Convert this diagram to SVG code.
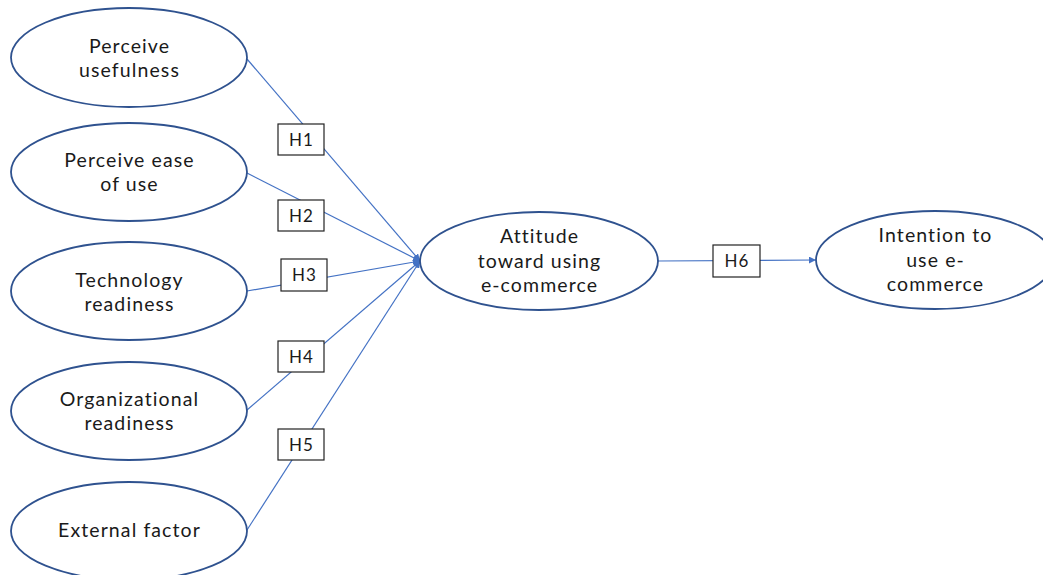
<svg xmlns="http://www.w3.org/2000/svg" width="1043" height="575" viewBox="0 0 1043 575">
<style>
.node ellipse{fill:#fff;stroke:#2F528F;stroke-width:1.8}
.node text,.lbl text{font-family:Lato,"Liberation Sans",sans-serif;font-size:19.5px;letter-spacing:1.1px;fill:#1a1a1a;text-anchor:middle}
.lbl rect{fill:#fff;stroke:#222;stroke-width:1.2}
.lbl text{font-size:17px;letter-spacing:1.1px}
.conn line{stroke:#4472C4;stroke-width:1.2}
</style>
<defs>
<marker id="ah" viewBox="0 0 10 10" refX="10" refY="5" markerWidth="7" markerHeight="7" markerUnits="userSpaceOnUse" orient="auto">
<path d="M0,0 L10,5 L0,10 z" fill="#4472C4"/>
</marker>
</defs>
<rect width="1043" height="575" fill="#fff"/>
<g id="connectors" class="conn">
<line x1="247" y1="59" x2="420" y2="261" marker-end="url(#ah)"/>
<line x1="247" y1="173" x2="420" y2="261" marker-end="url(#ah)"/>
<line x1="247" y1="291" x2="420" y2="261" marker-end="url(#ah)"/>
<line x1="247" y1="410" x2="420" y2="261" marker-end="url(#ah)"/>
<line x1="247" y1="530" x2="420" y2="261" marker-end="url(#ah)"/>
<line x1="658" y1="261" x2="816" y2="260" marker-end="url(#ah)"/>
<circle cx="417" cy="261" r="3.5" fill="#4472C4"/>
</g>
<g id="n1" class="node"><ellipse cx="129" cy="57.5" rx="118" ry="49.5"/><text x="129.5" y="53">Perceive</text><text x="129.5" y="77">usefulness</text></g>
<g id="n2" class="node"><ellipse cx="129" cy="172" rx="118" ry="49"/><text x="129.5" y="167">Perceive ease</text><text x="129.5" y="191">of use</text></g>
<g id="n3" class="node"><ellipse cx="129" cy="291" rx="118" ry="49"/><text x="129.5" y="287">Technology</text><text x="129.5" y="311">readiness</text></g>
<g id="n4" class="node"><ellipse cx="129" cy="411" rx="118" ry="49"/><text x="129.5" y="406">Organizational</text><text x="129.5" y="430">readiness</text></g>
<g id="n5" class="node"><ellipse cx="129" cy="531" rx="118" ry="49"/><text x="129.5" y="537">External factor</text></g>
<g id="n6" class="node"><ellipse cx="539" cy="261" rx="119" ry="49"/><text x="539.5" y="243">Attitude</text><text x="539.5" y="268">toward using</text><text x="539.5" y="292">e-commerce</text></g>
<g id="n7" class="node"><ellipse cx="935" cy="260" rx="119" ry="49"/><text x="935.5" y="242">Intention to</text><text x="935.5" y="267">use e-</text><text x="935.5" y="291">commerce</text></g>
<g id="h1" class="lbl"><rect x="278" y="124" width="46" height="31"/><text x="301.5" y="145.5">H1</text></g>
<g id="h2" class="lbl"><rect x="278" y="200" width="46" height="31"/><text x="301.5" y="221.5">H2</text></g>
<g id="h3" class="lbl"><rect x="281" y="259" width="46" height="32"/><text x="304.5" y="281">H3</text></g>
<g id="h4" class="lbl"><rect x="278" y="341" width="46" height="31"/><text x="301.5" y="362.5">H4</text></g>
<g id="h5" class="lbl"><rect x="278" y="429" width="46" height="31"/><text x="301.5" y="450.5">H5</text></g>
<g id="h6" class="lbl"><rect x="713" y="245" width="47" height="32"/><text x="737" y="267">H6</text></g>
</svg>
